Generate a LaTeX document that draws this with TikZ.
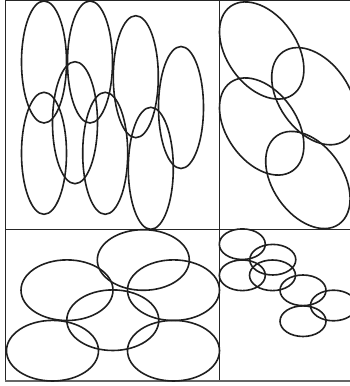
\documentclass[tikz,border=0pt]{standalone}
\begin{document}
\begin{tikzpicture}[x=1pt,y=1pt,
  oval/.style={line width=1.6pt,draw=black!88},
  frameline/.style={line width=1pt,draw=black!85},
  baseline/.style={line width=2pt,draw=black!60}]
\useasboundingbox (0,0) rectangle (350,386);
\clip (0,0) rectangle (350,386);
% frame
\draw[frameline] (350,385) -- (5.5,385) -- (5.5,4.7);
\draw[frameline] (219,385) -- (219,4.7);
\draw[frameline] (5.5,156.5) -- (350,156.5);
\draw[baseline] (5,4.7) -- (350,4.7);
% top-left: tall ellipses
\foreach \cx/\cy in {44/62, 90/62, 135.8/76.7, 181/107.5, 44/153.3, 75/122.7, 105.2/153.3, 150.8/168.3}
  \draw[oval] (\cx,386-\cy) ellipse [x radius=22.5, y radius=61];
% top-right: tilted ellipses
\foreach \cx/\cy in {261.7/50.5, 313.9/96.2, 261.7/126.5, 307.9/180}
  \draw[oval] (\cx,386-\cy) ellipse [x radius=54, y radius=35, rotate=-55];
% bottom-left: wide ellipses
\foreach \cx/\cy in {143.3/260, 67/290.2, 173.5/290.2, 112.8/320.2, 52.5/350.7, 173.5/350.7}
  \draw[oval] (\cx,386-\cy) ellipse [x radius=46, y radius=30.3];
% bottom-right: small ellipses
\foreach \cx/\cy in {242.3/244.2, 272.8/259.7, 242.3/275.3, 272.5/275.3, 303/290.3, 333.5/305.5, 303/321.2}
  \draw[oval] (\cx,386-\cy) ellipse [x radius=23, y radius=15.3];
\end{tikzpicture}
\end{document}
